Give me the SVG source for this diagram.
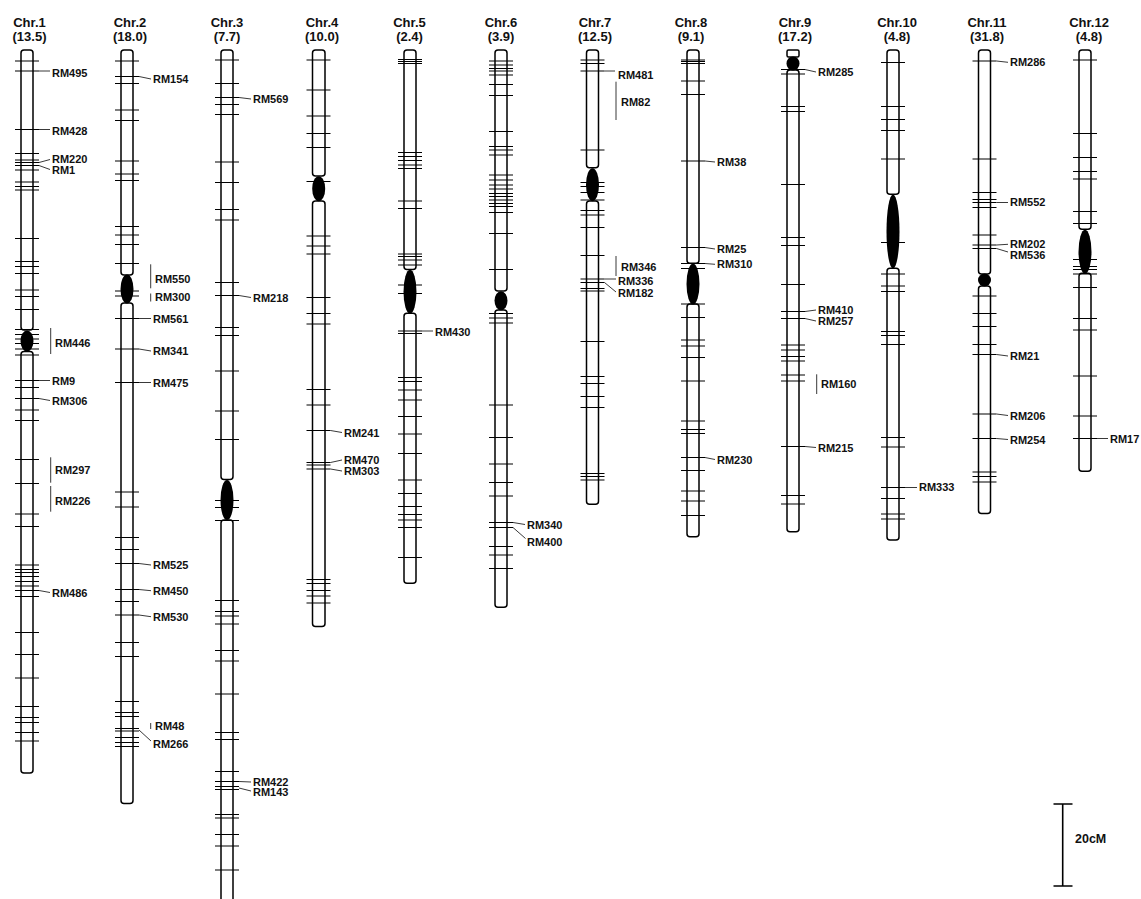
<svg xmlns="http://www.w3.org/2000/svg" width="1141" height="899" viewBox="0 0 1141 899">
<style>
.arm{fill:#fff;stroke:#000;stroke-width:1.5}
.cen{fill:#000}
.tk{stroke:#000;stroke-width:1.2;fill:none}
.ld{stroke:#222;stroke-width:0.9;fill:none}
.lb{font-family:"Liberation Sans",Arial,sans-serif;font-weight:bold;font-size:11px;fill:#111}
.tt{font-family:"Liberation Sans",Arial,sans-serif;font-weight:bold;font-size:13px;fill:#111;text-anchor:middle}
</style>
<rect width="1141" height="899" fill="#fff"/>

<g id="chr1">
<text class="tt" x="29.5" y="27">Chr.1</text><text class="tt" x="29.5" y="41">(13.5)</text>
<rect class="arm" x="21" y="50" width="12" height="280" rx="3"/>
<rect class="arm" x="21" y="351.5" width="12" height="421.5" rx="3"/>
<ellipse class="cen" cx="27" cy="341" rx="6.5" ry="10.5"/>
<path class="tk" d="M15 61h24M15 71h24M15 129.5h24M15 153.5h24M15 160h24M15 162.5h24M15 165.5h24M15 170h24M15 182h24M15 186.5h24M15 190h24M15 238.5h24M15 261.5h24M15 266.5h24M15 273.5h24M15 290h24M15 296.5h24M15 309.5h24M15 329.5h24M15 334.5h24M15 339h24M15 343.5h24M15 349h24M15 355h24M15 380.5h24M15 387.5h24M15 398.5h24M15 410h24M15 420.5h24M15 459.5h24M15 483.5h24M15 514h24M15 526.5h24M15 565h24M15 569.5h24M15 572.5h24M15 576.5h24M15 581.5h24M15 586h24M15 590.5h24M15 596.5h24M15 632.5h24M15 654.5h24M15 678h24M15 706.5h24M15 717.5h24M15 722.5h24M15 732.5h24M15 741h24"/>
<text class="lb" x="52" y="77">RM495</text>
<text class="lb" x="52" y="135">RM428</text>
<text class="lb" x="52" y="163" font-size="10.5">RM220</text>
<text class="lb" x="52" y="174" font-size="10.5">RM1</text>
<text class="lb" x="55" y="347">RM446</text>
<text class="lb" x="52" y="384.5">RM9</text>
<text class="lb" x="52" y="404.5">RM306</text>
<text class="lb" x="55" y="473.5">RM297</text>
<text class="lb" x="55" y="505">RM226</text>
<text class="lb" x="52" y="596.5">RM486</text>
</g>

<g id="chr2">
<text class="tt" x="130" y="27">Chr.2</text><text class="tt" x="130" y="41">(18.0)</text>
<rect class="arm" x="121" y="50" width="12" height="225" rx="3"/>
<rect class="arm" x="121" y="303" width="12" height="500.5" rx="3"/>
<ellipse class="cen" cx="127" cy="289" rx="6.5" ry="14.5"/>
<path class="tk" d="M115 61h24M115 76.5h24M115 83.5h24M115 110h24M115 120.5h24M115 161h24M115 174h24M115 180.5h24M115 226.5h24M115 235h24M115 244.5h24M115 263.5h24M115 291h24M115 296h24M115 318.5h24M115 349h24M115 382.5h24M115 492h24M115 507h24M115 537.5h24M115 549.5h24M115 563.5h24M115 589.5h24M115 601.5h24M115 615h24M115 642.5h24M115 656.5h24M115 701.5h24M115 712.5h24M115 716.5h24M115 728.5h24M115 731h24M115 737.5h24M115 742.5h24M115 746.5h24"/>
<text class="lb" x="153" y="83">RM154</text>
<text class="lb" x="155" y="283">RM550</text>
<text class="lb" x="155" y="301">RM300</text>
<text class="lb" x="153" y="323">RM561</text>
<text class="lb" x="153" y="355">RM341</text>
<text class="lb" x="153" y="387">RM475</text>
<text class="lb" x="153" y="569">RM525</text>
<text class="lb" x="153" y="594.5">RM450</text>
<text class="lb" x="153" y="620.5">RM530</text>
<text class="lb" x="155" y="730">RM48</text>
<text class="lb" x="153" y="748">RM266</text>
</g>

<g id="chr3">
<text class="tt" x="227" y="27">Chr.3</text><text class="tt" x="227" y="41">(7.7)</text>
<rect class="arm" x="221" y="50" width="12" height="429.5" rx="3"/>
<rect class="arm" x="221" y="520" width="12" height="400" rx="3"/>
<ellipse class="cen" cx="227" cy="500" rx="6.5" ry="20"/>
<path class="tk" d="M215 60h24M215 83.5h24M215 97.5h24M215 104.5h24M215 114.5h24M215 162h24M215 182.5h24M215 209.5h24M215 220h24M215 282.5h24M215 295.5h24M215 327.5h24M215 335.5h24M215 371h24M215 411h24M215 439.5h24M215 500.5h24M215 507.5h24M215 520.5h24M215 600.5h24M215 611.5h24M215 616h24M215 624h24M215 650.5h24M215 661h24M215 694h24M215 732.5h24M215 739.5h24M215 771.5h24M215 781.5h24M215 786.5h24M215 789.5h24M215 814.5h24M215 818h24M215 834.5h24M215 846h24M215 870h24"/>
<text class="lb" x="253" y="103">RM569</text>
<text class="lb" x="253" y="301.5">RM218</text>
<text class="lb" x="253" y="786">RM422</text>
<text class="lb" x="253" y="796">RM143</text>
</g>

<g id="chr4">
<text class="tt" x="322" y="27">Chr.4</text><text class="tt" x="322" y="41">(10.0)</text>
<rect class="arm" x="312.5" y="50" width="12.5" height="126" rx="3"/>
<rect class="arm" x="312.5" y="201" width="12.5" height="425.5" rx="3"/>
<ellipse class="cen" cx="318.7" cy="188.7" rx="6.5" ry="12.5"/>
<path class="tk" d="M306.5 60h24M306.5 90h24M306.5 116h24M306.5 133.5h24M306.5 147.5h24M306.5 181.5h24M306.5 236h24M306.5 246h24M306.5 254h24M306.5 297.5h24M306.5 313.5h24M306.5 324h24M306.5 389.5h24M306.5 405h24M306.5 430.5h24M306.5 462.5h24M306.5 465h24M306.5 469h24M306.5 579.5h24M306.5 583.5h24M306.5 590.5h24M306.5 596h24M306.5 603h24"/>
<text class="lb" x="344" y="436.5">RM241</text>
<text class="lb" x="344" y="464">RM470</text>
<text class="lb" x="344" y="475">RM303</text>
</g>

<g id="chr5">
<text class="tt" x="409.5" y="27">Chr.5</text><text class="tt" x="409.5" y="41">(2.4)</text>
<rect class="arm" x="404" y="50" width="12" height="219.5" rx="3"/>
<rect class="arm" x="404" y="313.3" width="12" height="270" rx="3"/>
<ellipse class="cen" cx="410" cy="291.7" rx="6.5" ry="22"/>
<path class="tk" d="M398 59.5h24M398 61.5h24M398 63.5h24M398 152.5h24M398 156.5h24M398 160.5h24M398 165h24M398 168.5h24M398 201h24M398 208.5h24M398 254h24M398 256.5h24M398 260h24M398 265h24M398 285h24M398 293.5h24M398 331h24M398 333.5h24M398 377.5h24M398 381.5h24M398 390h24M398 400h24M398 416.5h24M398 434h24M398 453.5h24M398 480h24M398 493.5h24M398 506.5h24M398 514.5h24M398 520h24M398 527.5h24M398 557.5h24"/>
<text class="lb" x="435" y="335.7">RM430</text>
</g>

<g id="chr6">
<text class="tt" x="501" y="27">Chr.6</text><text class="tt" x="501" y="41">(3.9)</text>
<rect class="arm" x="495" y="50" width="12" height="241" rx="3"/>
<rect class="arm" x="495" y="310" width="12" height="297.3" rx="3"/>
<ellipse class="cen" cx="501" cy="300.8" rx="6.5" ry="9.5"/>
<path class="tk" d="M489 61h24M489 65h24M489 68.5h24M489 71h24M489 75h24M489 84.5h24M489 95.5h24M489 131.5h24M489 146.5h24M489 150h24M489 155h24M489 175h24M489 180h24M489 185h24M489 189h24M489 193.5h24M489 196.5h24M489 200h24M489 203.5h24M489 206.5h24M489 212.5h24M489 233.5h24M489 269.5h24M489 313.5h24M489 318h24M489 323h24M489 405h24M489 437.5h24M489 464h24M489 482.5h24M489 496h24M489 522.5h24M489 527.5h24M489 546.5h24M489 555h24M489 568.5h24"/>
<text class="lb" x="527" y="529">RM340</text>
<text class="lb" x="527" y="545.5">RM400</text>
</g>

<g id="chr7">
<text class="tt" x="595" y="27">Chr.7</text><text class="tt" x="595" y="41">(12.5)</text>
<rect class="arm" x="586.5" y="50" width="12" height="117.7" rx="3"/>
<rect class="arm" x="586.5" y="201" width="12" height="303.3" rx="3"/>
<ellipse class="cen" cx="592.5" cy="184.7" rx="6.5" ry="16.5"/>
<path class="tk" d="M580.5 60h24M580.5 63.5h24M580.5 71h24M580.5 150h24M580.5 182.5h24M580.5 186.5h24M580.5 192.5h24M580.5 200h24M580.5 210.5h24M580.5 215h24M580.5 227.5h24M580.5 255.5h24M580.5 279h24M580.5 282.5h24M580.5 288.5h24M580.5 291h24M580.5 341.5h24M580.5 376.5h24M580.5 383.5h24M580.5 396.5h24M580.5 407.5h24M580.5 473.5h24M580.5 476.5h24M580.5 480h24"/>
<text class="lb" x="618" y="79">RM481</text>
<text class="lb" x="621" y="106.3">RM82</text>
<text class="lb" x="621" y="270.7">RM346</text>
<text class="lb" x="618" y="285">RM336</text>
<text class="lb" x="618" y="297.3">RM182</text>
</g>

<g id="chr8">
<text class="tt" x="691" y="27">Chr.8</text><text class="tt" x="691" y="41">(9.1)</text>
<rect class="arm" x="687" y="50" width="12" height="213.3" rx="3"/>
<rect class="arm" x="687" y="304" width="12" height="232.7" rx="3"/>
<ellipse class="cen" cx="693" cy="284" rx="6.5" ry="20.5"/>
<path class="tk" d="M681 60h24M681 61.5h24M681 63.5h24M681 81h24M681 94.5h24M681 161h24M681 247.5h24M681 263.5h24M681 268.5h24M681 304h24M681 317.5h24M681 340h24M681 346h24M681 357.5h24M681 381h24M681 421h24M681 429.5h24M681 433.5h24M681 457.5h24M681 470.5h24M681 491h24M681 501h24M681 515.5h24"/>
<text class="lb" x="717" y="166">RM38</text>
<text class="lb" x="717" y="253">RM25</text>
<text class="lb" x="717" y="268.3">RM310</text>
<text class="lb" x="717" y="464">RM230</text>
</g>

<g id="chr9">
<text class="tt" x="795" y="27">Chr.9</text><text class="tt" x="795" y="41">(17.2)</text>
<rect class="arm" x="787" y="50" width="12" height="7" rx="1.5"/>
<rect class="arm" x="787" y="70" width="12" height="461.7" rx="3"/>
<ellipse class="cen" cx="793" cy="63.5" rx="6.5" ry="7"/>
<path class="tk" d="M781 69.5h24M781 74h24M781 106.5h24M781 111.5h24M781 184.5h24M781 237.5h24M781 245.5h24M781 284.5h24M781 311.5h24M781 318.5h24M781 345h24M781 350h24M781 356.5h24M781 361h24M781 375h24M781 381h24M781 446.5h24M781 495.5h24M781 504h24"/>
<text class="lb" x="818" y="76.3">RM285</text>
<text class="lb" x="818" y="314">RM410</text>
<text class="lb" x="818" y="325">RM257</text>
<text class="lb" x="821" y="388">RM160</text>
<text class="lb" x="818" y="451.7">RM215</text>
</g>

<g id="chr10">
<text class="tt" x="897" y="27">Chr.10</text><text class="tt" x="897" y="41">(4.8)</text>
<rect class="arm" x="887" y="50" width="12" height="144.3" rx="3"/>
<rect class="arm" x="887" y="268.3" width="12" height="271.7" rx="3"/>
<ellipse class="cen" cx="893" cy="231.5" rx="6.5" ry="37"/>
<path class="tk" d="M881 62.5h24M881 106.5h24M881 119.5h24M881 130.5h24M881 159h24M881 242.5h24M881 274h24M881 286h24M881 291.5h24M881 331.5h24M881 335.5h24M881 344.5h24M881 437.5h24M881 447h24M881 487.5h24M881 498.5h24M881 514h24M881 519h24"/>
<text class="lb" x="919" y="491">RM333</text>
</g>

<g id="chr11">
<text class="tt" x="987" y="27">Chr.11</text><text class="tt" x="987" y="41">(31.8)</text>
<rect class="arm" x="978.5" y="50" width="12" height="224" rx="3"/>
<rect class="arm" x="978.5" y="286" width="12" height="227.6" rx="3"/>
<ellipse class="cen" cx="984.5" cy="280" rx="6.5" ry="6.5"/>
<path class="tk" d="M972.5 61h24M972.5 159h24M972.5 192.5h24M972.5 199.5h24M972.5 202.5h24M972.5 207.5h24M972.5 235h24M972.5 245h24M972.5 248.5h24M972.5 296h24M972.5 313.5h24M972.5 326.5h24M972.5 344.5h24M972.5 354.5h24M972.5 414h24M972.5 438.5h24M972.5 472h24M972.5 476.5h24M972.5 482h24"/>
<text class="lb" x="1010" y="66.3">RM286</text>
<text class="lb" x="1010" y="206.3">RM552</text>
<text class="lb" x="1010" y="248.3">RM202</text>
<text class="lb" x="1010" y="259">RM536</text>
<text class="lb" x="1010" y="360">RM21</text>
<text class="lb" x="1010" y="419.5">RM206</text>
<text class="lb" x="1010" y="443.5">RM254</text>
</g>

<g id="chr12">
<text class="tt" x="1089" y="27">Chr.12</text><text class="tt" x="1089" y="41">(4.8)</text>
<rect class="arm" x="1079" y="50" width="12" height="179.3" rx="3"/>
<rect class="arm" x="1079" y="273.3" width="12" height="198" rx="3"/>
<ellipse class="cen" cx="1085" cy="251.7" rx="6.5" ry="22"/>
<path class="tk" d="M1073 60h24M1073 133.5h24M1073 157.5h24M1073 171.5h24M1073 179h24M1073 211.5h24M1073 223.5h24M1073 259.5h24M1073 266.5h24M1073 269.5h24M1073 274h24M1073 287.5h24M1073 318.5h24M1073 330h24M1073 376h24M1073 416h24M1073 438.5h24"/>
<text class="lb" x="1110" y="443.4">RM17</text>
</g>

<g id="scale">
<path d="M1062.7 804V886M1053.5 804H1072.5M1053.5 886H1072.5" stroke="#000" stroke-width="1.6" fill="none"/>
<text x="1075" y="843" font-family="Liberation Sans, Arial, sans-serif" font-weight="bold" font-size="12.5" fill="#111">20cM</text>
</g>

<g id="connectors" class="ld">
<path d="M39 71H50M39 129.5H50M39 162.5L50 159.5M39 165.5L50 169.5M50.7 328V354M39 380.5H50M39 398.5L50 400.5M50.7 457.3V482.7M50.7 486V511.7M39 590.5L50 592.5"/>
<path d="M139 76.5L151 79M150.7 264.3V288.3M150.7 293.5V301.5M139 318.5H151M139 349L151 351M139 382.5H151M139 563.5L151 565M139 589.5L151 590.7M139 615L151 616.7M150.7 723V729M139 730L151 741"/>
<path d="M239 97.5L251 99M239 295.5L251 297.5M239 781.5L251 782M239 788L251 791"/>
<path d="M330.5 430.5L342 432.5M330.5 462.5L342 460M330.5 469L342 471"/>
<path d="M422 331H433"/>
<path d="M513 522.5L525 524.5M513 527.5L525.5 538.5"/>
<path d="M604.5 71H615M616 81.7V120M616 256V276M604.5 279H616M604.5 282.5L616 292"/>
<path d="M705 161L715 162M705 247.5L715 249M705 263.5L715 264.3M705 457.5L715 459.5"/>
<path d="M805 69.5L816 72M805 311.5L816 310M805 318.5L816 321M816.7 374.3V394M805 446.5L816 447.5"/>
<path d="M905 487.5H917"/>
<path d="M996.5 61L1008 62.3M996.5 202.5H1008M996.5 245L1008 244.3M996.5 248.5L1008 252M996.5 354.5L1008 356M996.5 414L1008 415.5M996.5 438.5L1008 439.5"/>
<path d="M1097 438.5H1108"/>
</g>
</svg>
